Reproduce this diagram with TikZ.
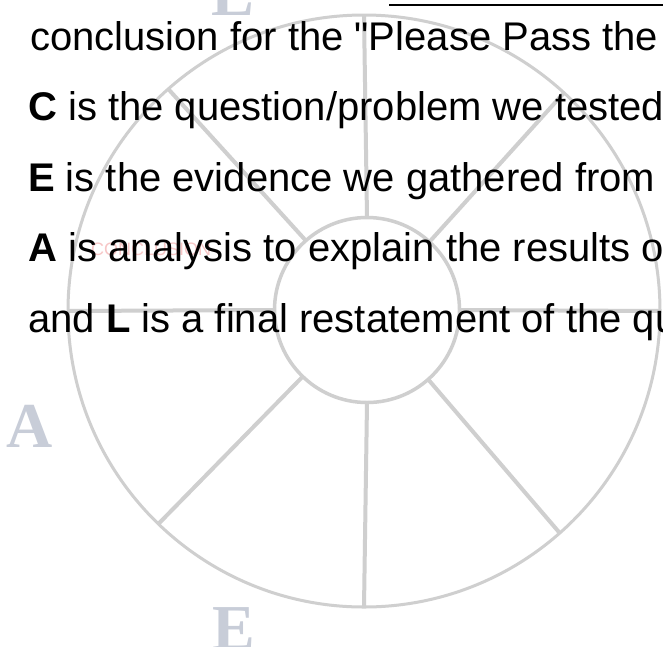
\documentclass[tikz,border=0pt]{standalone}
\usepackage{fontspec}
\setmainfont{Liberation Sans}
\newfontfamily\quotefont{Liberation Sans}
\newfontfamily\serifletter{Liberation Serif}
\usetikzlibrary{calc}
\definecolor{wheelgray}{RGB}{207,207,207}
\definecolor{lettergray}{RGB}{200,205,216}
\definecolor{faintred}{RGB}{247,198,198}
\begin{document}
\begin{tikzpicture}[x=1pt,y=-1pt,
  wheel/.style={draw=wheelgray},
  textline/.style={anchor=base west, inner sep=0pt, font=\fontsize{40}{48}\selectfont},
  bigletter/.style={anchor=base, inner sep=0pt, text=lettergray, font=\serifletter\bfseries\fontsize{64}{70}\selectfont}]
\useasboundingbox (0,0) rectangle (663,646);
\clip (0,0) rectangle (663,646);
\fill[white] (0,0) rectangle (663,646);
% wheel
\coordinate (oc) at (364,311);
\coordinate (ic) at (367,310);
\draw[wheel, line width=3] (oc) circle[radius=296];
\draw[wheel, line width=3.5] (ic) circle[radius=92.5];
\foreach \a in {-90,90,180,0,228.6,-47.5,134,48.6}{
  \draw[wheel, line width=4] ($(ic)+(\a:92.5)$) -- ($(oc)+(\a:296)$);
}
% faint letters
\node[bigletter] (la) at (30,447) {A};
\node[bigletter] (le) at (234,649) {E};
\node[bigletter] (lt) at (233,15) {L};
% top rule
\coordinate (ru1) at (389,5);
\coordinate (ru2) at (663,5);
\draw[line width=2] (ru1) -- (ru2);
% faint watermark
\node[anchor=base west, inner sep=0pt, text=faintred, font=\fontsize{18}{20}\selectfont] (wm) at (91,255) {CONCLUSION};
% text lines
\node[textline] (l1) at (30,50) {conclusion for the {\quotefont"}Please Pass the};
\node[textline] (l2) at (28,120.5) {\textbf{C} is the question/problem we tested};
\node[textline] (l3) at (28,191) {\textbf{E} is the evidence we gathered from};
\node[textline] (l4) at (28,261.5) {\textbf{A} is analysis to explain the results o};
\node[textline] (l5) at (28,332) {and \textbf{L} is a final restatement of the qu};
\end{tikzpicture}
\end{document}
